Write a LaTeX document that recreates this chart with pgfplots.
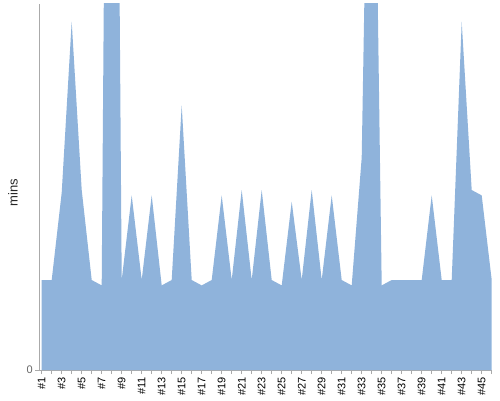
\documentclass[border=0pt]{standalone}
\usepackage{fontspec}
\setmainfont{Liberation Sans}
\usepackage{pgfplots}
\pgfplotsset{compat=1.18}
\definecolor{areablue}{RGB}{143,179,219}
\definecolor{axisgray}{RGB}{170,170,170}
\begin{document}
\begin{tikzpicture}
\path[use as bounding box] (0,0) rectangle (500pt,400pt);
\begin{axis}[
  scale only axis,
  width=452.7pt, height=366pt,
  at={(39pt,30pt)}, anchor=south west,
  xmin=0.73, xmax=46, ymin=0, ymax=4.067,
  axis x line*=bottom, axis y line*=left,
  axis line style={draw=axisgray, line width=0.8pt, -},
  xtick={1,...,46},
  xticklabels={\#1,{},\#3,{},\#5,{},\#7,{},\#9,{},\#11,{},\#13,{},\#15,{},\#17,{},\#19,{},\#21,{},\#23,{},\#25,{},\#27,{},\#29,{},\#31,{},\#33,{},\#35,{},\#37,{},\#39,{},\#41,{},\#43,{},\#45,{}},
  x tick label style={rotate=90, anchor=east, font=\fontsize{11}{13}\selectfont, text=black, inner sep=1pt, xshift=-2pt},
  ytick={0},
  y tick label style={font=\fontsize{11}{13}\selectfont, text=black!60, inner sep=2pt},
  /pgf/number format/assume math mode=true,
  tick style={draw=axisgray, line width=0.8pt},
  major tick length=4pt,
  tick align=outside,
  ylabel={mins},
  ylabel style={at={(axis description cs:-0.0574,0.485)}, anchor=center, font=\fontsize{13}{15}\selectfont, text=black!85},
  clip=true,
]
\addplot[fill=areablue, draw=none] table[x=i, y=v] {
i v
1 1.00
2 1.00
3 1.97
4 3.87
5 2.00
6 1.00
7 0.94
8 16.0
9 1.00
10 1.94
11 1.00
12 1.94
13 0.94
14 1.00
15 2.94
16 1.00
17 0.94
18 1.00
19 1.94
20 1.00
21 2.00
22 1.00
23 2.00
24 1.00
25 0.94
26 1.87
27 1.00
28 2.00
29 1.00
30 1.94
31 1.00
32 0.94
33 2.36
34 8.9
35 0.94
36 1.00
37 1.00
38 1.00
39 1.00
40 1.94
41 1.00
42 1.00
43 3.87
44 2.00
45 1.94
46 1.00
} \closedcycle;
\end{axis}
\end{tikzpicture}
\end{document}
